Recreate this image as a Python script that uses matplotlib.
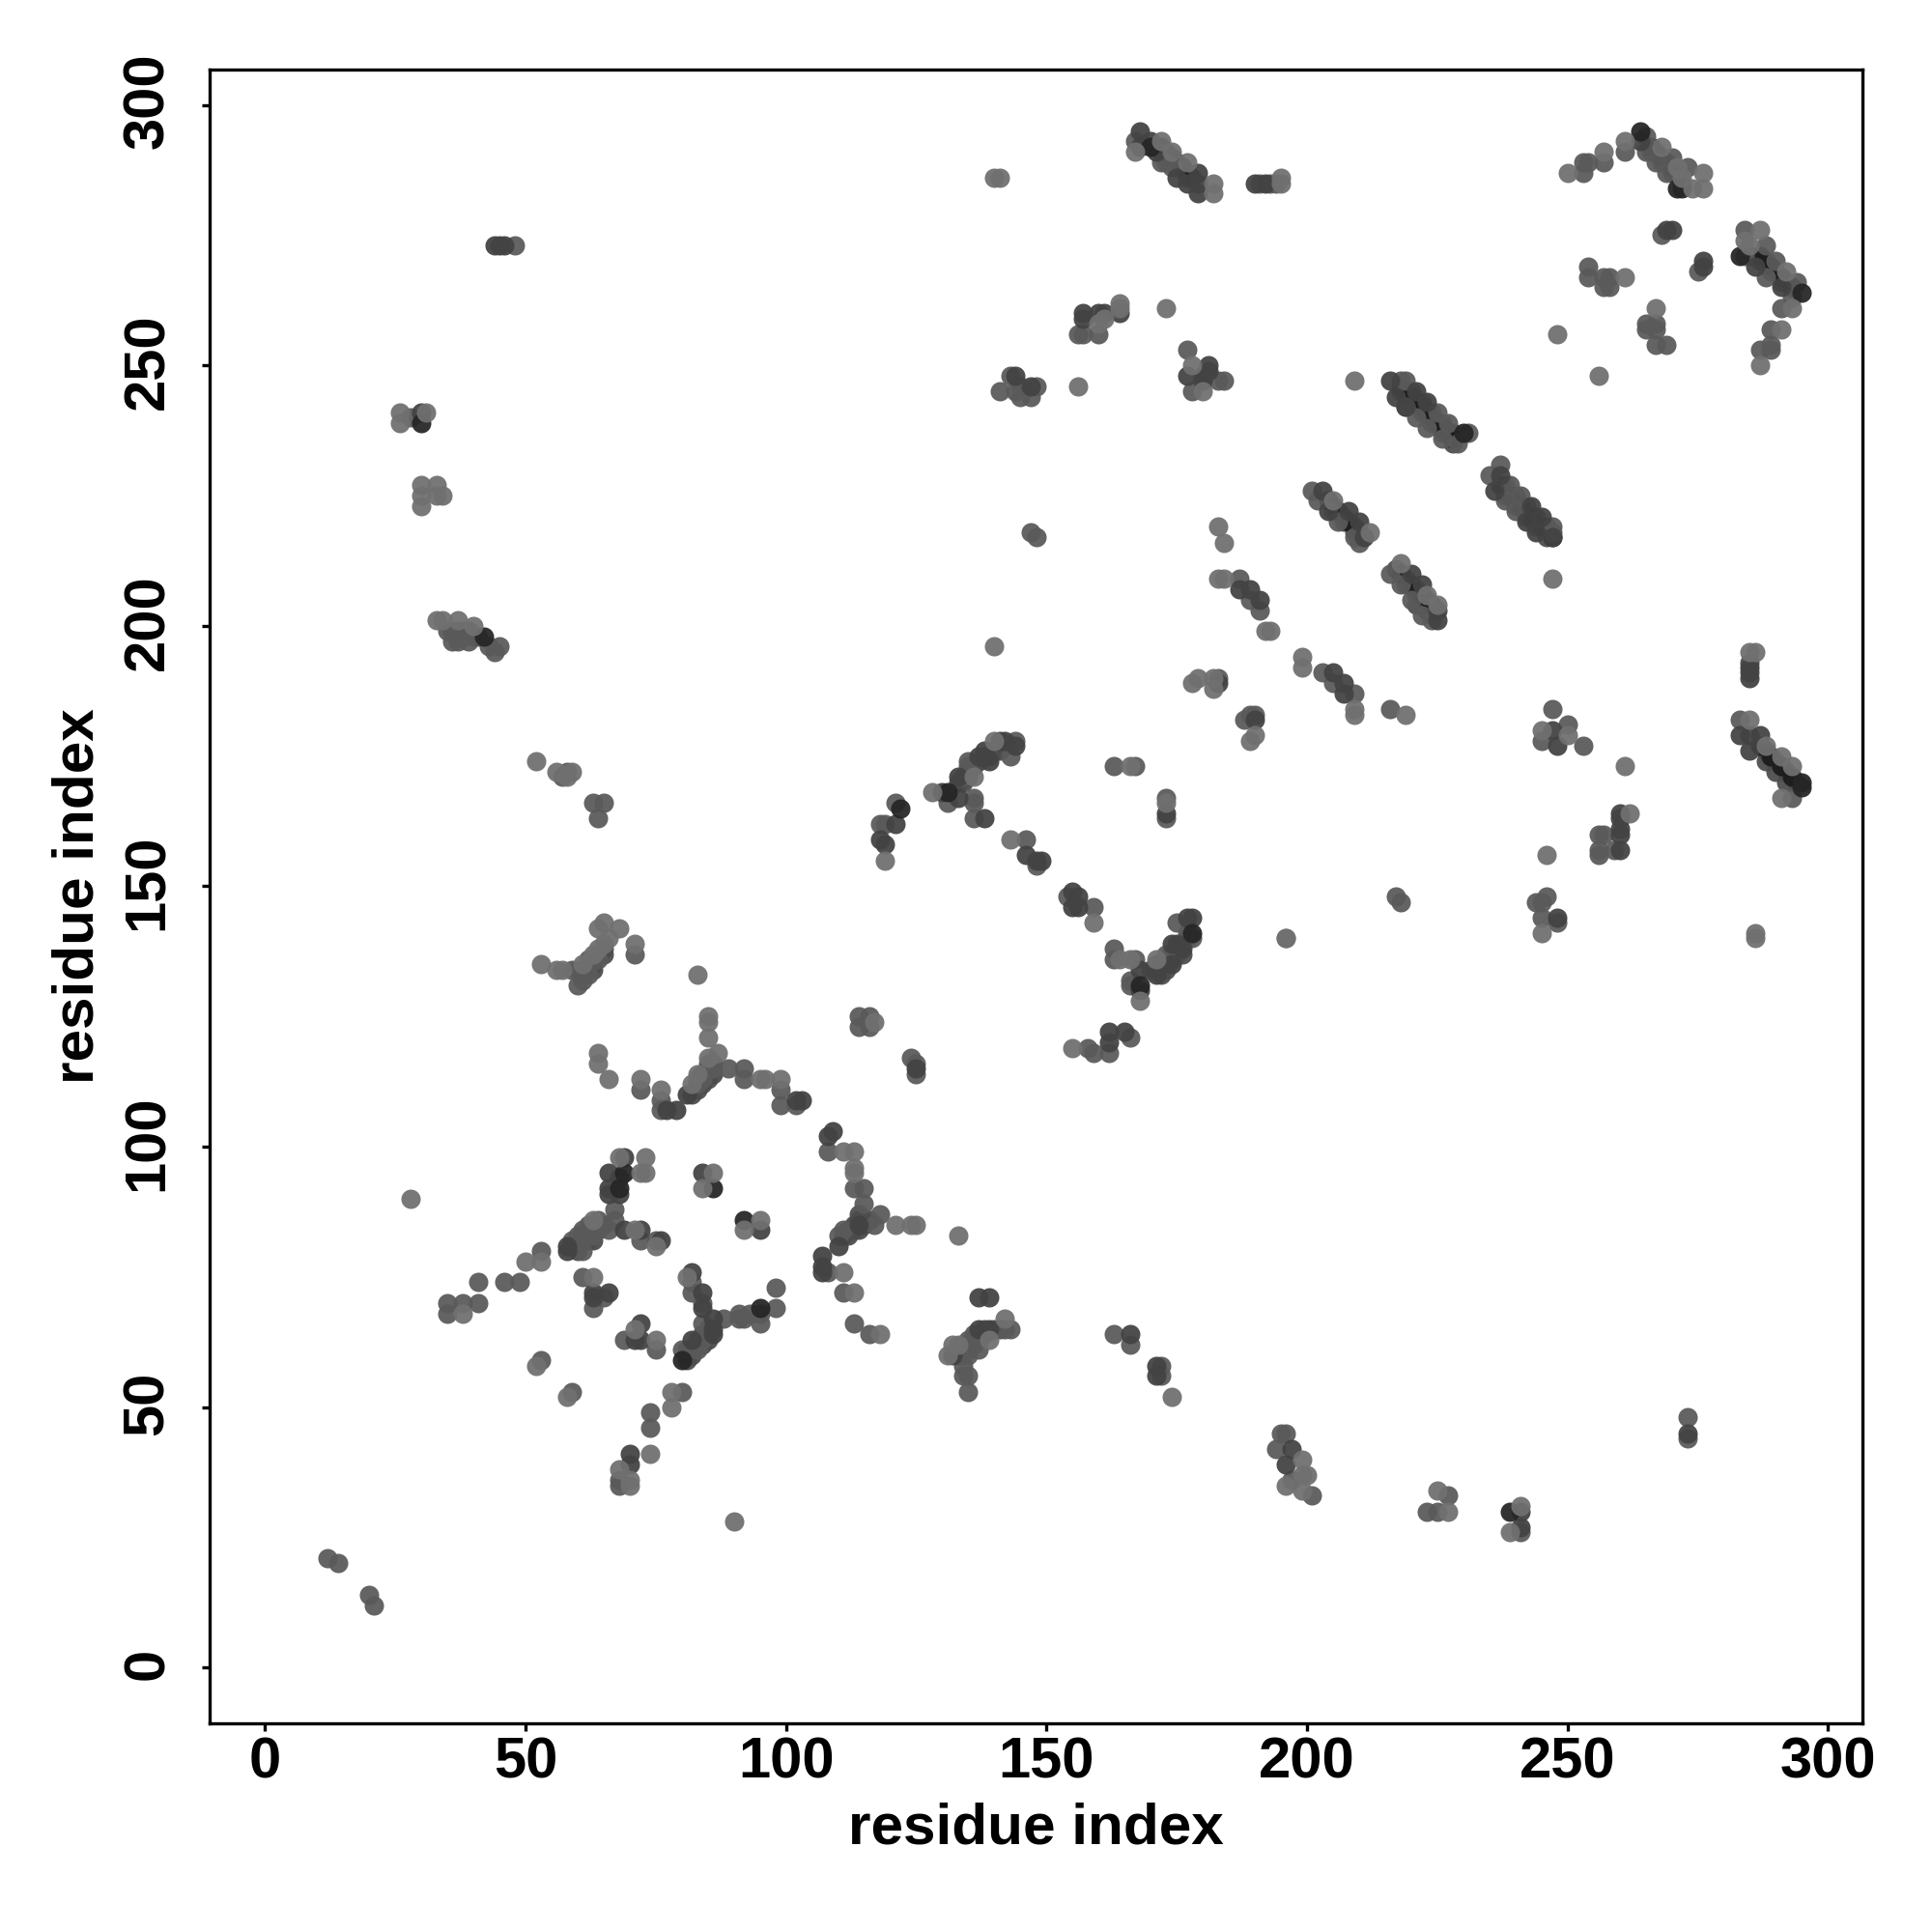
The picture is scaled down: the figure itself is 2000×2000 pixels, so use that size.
import numpy as np
import matplotlib
matplotlib.use("Agg")
import matplotlib.pyplot as plt
from matplotlib.transforms import ScaledTranslation

plt.rcParams["font.family"] = ["Liberation Sans", "DejaVu Sans"]

# residue contacts (i, j), grouped by how dark the dot is
# fill_pts / core_pts are the crowded ones inside the strands, mostly hidden under the others
fill_pts = [
    (218,245),(220,243),(222,241),(224,239),(226,237),(228,235),(220,245),(222,243),(224,241),(226,239),(228,237),
    (238,225),(240,223),(242,221),(244,219),(246,217),(238,227),(240,225),(242,223),(244,221),(246,219),
    (205,222),(207,220),(209,218),(205,223),(207,221),(209,219),(219,209),(221,207),(223,205),(217,211),(219,208),
    (221,206),(223,203),(224,202),(221,204),(171,292),(173,290),(175,288),(177,286),(173,291),(175,289),(177,287),
    (267,291),(269,289),(271,287),(266,291),(268,289),(270,287),(272,285),(288,270),(290,268),(292,266),(287,270),
    (289,268),(291,266),(286,271),(285,271),(288,176),(290,174),(292,172),(294,170),(288,174),(290,172),(292,170),
    (135,172),(136,173),(137,174),(138,175),(139,175),(140,176),(141,176),(134,170),(135,171),(133,170),
    (171,135),(172,135),(173,136),(174,137),(175,138),(176,139),(177,140),(172,133),(173,134),(174,136),(175,137),
    (176,137),(59,81),(60,82),(61,83),(62,84),(63,85),(62,82),(63,82),(64,84),(60,80),(65,85),(62,134),(63,135),
    (64,137),(65,137),(65,138),(63,134),(61,133),(82,110),(83,111),(84,112),(85,113),(86,114),(85,115),(84,114),
    (86,116),(83,113),(81,59),(82,60),(83,62),(84,62),(85,63),(85,64),(82,61),(81,60),(84,64),(85,65),(112,83),
    (113,84),(114,84),(115,86),(113,85),(114,87),(112,84),(111,83),(115,85),(116,86),(114,86),(133,60),(134,60),
    (134,62),(135,62),(136,62),(137,63),(138,64),(135,61),(136,63),(137,64),(138,65),(140,65),(141,65),(37,199),
    (39,199),(36,199),(40,198),(285,193),(285,191),
]
core_pts = [
    (218,246),(219,245),(220,244),(221,243),(222,242),(223,241),(224,240),(225,239),(226,238),(227,237),(228,236),
    (237,227),(239,225),(241,223),(243,221),(245,219),(247,217),(204,224),(206,222),(208,220),(210,218),(218,210),
    (220,208),(222,206),(224,204),(172,292),(174,290),(176,288),(178,286),(266,292),(268,290),(270,288),(287,271),
    (289,269),(291,267),(293,265),(287,177),(289,175),(291,173),(293,171),
]
mid_pts = [
    (12,21),(14,20),(20,14),(21,12),(28,240),(36,197),(35,199),(38,199),(37,197),(39,197),(41,198),(43,196),(44,195),
    (45,196),(48,273),(57,171),(58,172),(63,166),(65,166),(64,163),(59,134),(60,131),(60,134),(61,132),(62,133),
    (62,136),(64,136),(71,137),(72,111),(76,109),(76,107),(84,113),(85,116),(83,112),(86,115),(89,115),(92,113),
    (92,115),(99,111),(99,108),(102,108),(108,99),(113,92),(115,92),(115,89),(118,87),(117,85),(111,84),(110,83),
    (108,76),(111,72),(113,66),(116,64),(142,65),(143,65),(136,64),(135,63),(137,61),(134,61),(135,60),(134,58),
    (135,56),(134,56),(135,53),(67,88),(67,86),(64,86),(62,85),(61,84),(60,83),(59,82),(61,80),(60,81),(63,83),
    (66,84),(72,82),(75,82),(53,80),(46,74),(49,74),(41,74),(38,70),(41,70),(35,70),(35,68),(61,75),(63,69),(65,71),
    (82,74),(82,72),(84,70),(88,67),(84,66),(84,63),(83,63),(81,61),(80,61),(83,61),(91,68),(91,67),(92,67),(93,68),
    (95,66),(95,68),(98,73),(98,69),(69,63),(75,61),(53,59),(59,53),(80,53),(74,49),(74,46),(68,36),(68,35),
    (167,293),(172,289),(174,288),(173,289),(193,285),(191,285),(194,285),(156,256),(157,256),(160,256),(177,253),
    (184,247),(183,247),(178,245),(143,248),(141,245),(145,246),(144,245),(145,244),(147,244),(148,246),(218,247),
    (219,247),(225,241),(227,239),(221,240),(223,238),(219,242),(226,236),(231,237),(229,235),(237,231),(235,229),
    (239,227),(241,225),(247,219),(247,218),(238,224),(240,222),(253,287),(253,289),(254,289),(257,289),(261,291),
    (265,294),(270,290),(265,291),(267,289),(269,287),(273,288),(268,275),(275,268),(284,276),(284,271),(288,273),
    (290,270),(294,266),(288,267),(293,263),(291,261),(289,257),(287,253),(289,253),(289,254),(254,269),(254,267),
    (257,267),(257,265),(258,267),(258,265),(265,258),(267,258),(265,257),(267,257),(267,254),(269,254),(201,226),
    (202,224),(206,220),(209,217),(210,216),(216,210),(218,208),(220,205),(222,202),(224,201),(187,209),(189,205),
    (191,203),(203,191),(205,189),(209,187),(216,184),(183,190),(188,182),(189,183),(190,183),(247,184),(245,178),
    (250,181),(253,177),(256,160),(257,160),(256,157),(259,157),(256,156),(246,148),(245,147),(244,147),(245,144),
    (248,143),(217,148),(218,147),(121,166),(118,162),(119,162),(131,166),(136,167),(136,166),(136,163),(135,174),
    (144,178),(143,175),(135,173),(134,171),(146,159),(148,154),(154,148),(159,146),(163,138),(163,136),(167,136),
    (166,132),(166,131),(170,134),(173,137),(177,141),(175,143),(178,140),(158,119),(159,118),(162,118),(166,121),
    (163,173),(167,173),(173,167),(173,163),(283,182),(293,167),(147,218),(148,217),
    (163,64),(166,62),(172,58),(172,56),(195,45),(196,45),(194,42),(197,36),(201,33),(223,30),(227,33),(225,30),
    (241,26),(273,48),(273,44),(125,116),(124,117),(125,114),(114,125),(114,123),(116,125),(116,123),
]
dark_pts = [
    (30,241),(45,273),(46,273),(44,273),(77,107),(79,107),(81,110),(102,109),(103,109),(109,103),(108,102),(114,85),
    (110,81),(107,79),(107,77),(107,76),(137,71),(139,71),(139,65),(137,65),(132,60),(69,98),(66,95),(68,94),(66,92),
    (68,91),(66,91),(58,80),(69,84),(72,84),(76,82),(63,72),(63,71),(66,72),(82,76),(84,72),(84,69),(86,67),(86,65),
    (86,64),(82,63),(84,95),(95,84),(72,66),(72,63),(71,63),(70,41),(70,39),(168,295),(168,292),(171,291),(170,293),
    (175,286),(177,285),(179,287),(179,285),(179,283),(190,285),(192,285),(157,260),(157,259),(160,260),(161,260),
    (164,260),(181,250),(181,249),(177,248),(180,248),(180,247),(144,248),(147,246),(216,247),(221,245),(223,243),
    (217,244),(219,242),(237,229),(236,226),(243,223),(245,221),(242,220),(244,218),(247,217),(264,293),(270,276),
    (269,276),(276,270),(276,269),(286,269),(291,265),(203,226),(204,222),(208,222),(210,220),(211,217),(220,210),
    (222,208),(225,201),(225,203),(187,207),(189,207),(191,205),(205,191),(207,189),(207,187),(183,189),(190,182),
    (247,180),(248,177),(260,164),(260,163),(260,160),(260,161),(260,157),(248,144),(118,159),(119,158),(121,162),
    (130,168),(133,167),(133,171),(138,176),(137,175),(139,174),(141,178),(142,178),(144,177),(138,163),(146,156),
    (148,155),(149,155),(155,149),(156,148),(155,146),(156,146),(168,134),(168,130),(171,133),(174,135),(174,139),
    (175,139),(176,138),(178,144),(177,144),(162,122),(162,120),(165,122),(173,164),(283,179),(285,179),(287,179),
    (285,176),(166,64),(171,58),(171,56),(197,42),(196,39),(241,30),(241,27),(273,45),(58,81),(125,115),(285,192),
    (285,190),
]
darkest_pts = [
    (30,239),(42,198),(68,92),(69,95),(86,92),(92,86),(80,59),(95,69),(170,292),(264,295),(230,237),(271,284),
    (272,284),(283,271),(295,264),(122,165),(131,168),(168,131),(178,141),(295,170),(295,169),(239,30),
]
light_pts = [
    (26,239),(26,241),(31,241),(30,223),(30,225),(30,227),(33,227),(33,225),(34,225),(33,201),(34,201),(37,201),
    (40,200),(52,174),(56,172),(53,135),(56,134),(57,134),(61,135),(63,137),(64,138),(65,139),(66,140),(65,143),
    (64,142),(68,142),(71,139),(58,171),(59,172),(64,118),(64,116),(66,113),(72,113),(76,111),(28,90),(90,28),
    (85,125),(85,124),(85,121),(82,112),(83,114),(85,117),(87,118),(95,113),(96,113),(99,113),(111,99),(113,99),
    (113,96),(113,95),(121,85),(124,85),(125,85),(133,83),(111,76),(113,72),(118,64),(142,67),(139,63),(133,62),
    (132,62),(131,60),(68,98),(73,98),(73,95),(72,95),(63,86),(71,84),(75,81),(53,78),(50,78),(38,68),(63,75),
    (81,75),(84,92),(86,95),(92,84),(95,86),(75,63),(71,65),(52,58),(58,52),(78,53),(78,50),(74,41),(68,38),(70,36),
    (70,35),(83,133),(117,124),(140,286),(141,286),(167,291),(172,293),(174,291),(177,289),(182,285),(182,283),
    (195,286),(195,285),(164,262),(164,261),(160,258),(161,259),(173,261),(178,250),(180,245),(156,246),(209,247),
    (250,287),(257,291),(261,293),(268,292),(271,288),(276,287),(272,286),(274,284),(276,284),(287,276),(284,274),
    (285,273),(292,268),(293,261),(291,257),(287,250),(261,267),(267,261),(248,256),(256,248),(183,219),(184,216),
    (183,209),(184,209),(192,199),(193,199),(205,224),(212,218),(218,212),(223,206),(225,204),(247,209),(199,194),
    (199,192),(209,184),(209,183),(219,183),(179,190),(178,189),(182,190),(182,188),(189,178),(190,179),(245,180),
    (250,179),(261,173),(262,164),(246,156),(245,141),(128,168),(136,171),(140,178),(143,159),(159,143),(164,136),
    (166,136),(168,128),(171,136),(155,119),(119,155),(196,140),(166,173),(173,166),(196,140),(285,195),(286,195),
    (285,182),(288,177),(291,175),(293,173),(291,167),(286,141),(286,140),(140,196),(174,52),(199,40),(196,35),
    (199,34),(200,37),(199,37),(225,34),(227,30),(241,31),(239,26),
]
tick_vals = [0, 50, 100, 150, 200, 250, 300]
axis_label = "residue index"

fig = plt.figure(figsize=(10, 10), dpi=200)
ax = fig.add_axes([0.1085, 0.108, 0.8555, 0.856])

# light dots sit on top of the darker ones in the original
layers = [
    (fill_pts, "#4c4c4c"), (core_pts, "#1c1c1c"), (mid_pts, "#5a5a5a"),
    (dark_pts, "#434343"), (darkest_pts, "#262626"), (light_pts, "#707070"),
]
for pts, col in layers:
    xy = np.array(pts)
    ax.scatter(xy[:, 0], xy[:, 1], s=52, c=col, alpha=0.94, linewidths=0)

ax.set_xlim(-10.6, 306.6)
ax.set_ylim(-10.7, 306.8)
ax.set_xticks(tick_vals)
ax.set_yticks(tick_vals)
ax.tick_params(length=3, width=1.2, labelsize=21.5)
ax.tick_params(axis="x", pad=1.7)
ax.tick_params(axis="y", pad=10)
for lab in ax.get_xticklabels():
    lab.set_fontweight("bold")
shift = ScaledTranslation(0, 4 / 200, fig.dpi_scale_trans)
for lab in ax.get_yticklabels():
    lab.set_fontweight("bold")
    lab.set_rotation(90)
    lab.set_va("center")
    lab.set_transform(lab.get_transform() + shift)
for s in ax.spines.values():
    s.set_linewidth(1.2)
ax.set_xlabel(axis_label, fontsize=21.7, fontweight="bold", labelpad=5)
ax.set_ylabel(axis_label, fontsize=21.7, fontweight="bold", labelpad=6.2)

fig.savefig("out.png", dpi=200)
